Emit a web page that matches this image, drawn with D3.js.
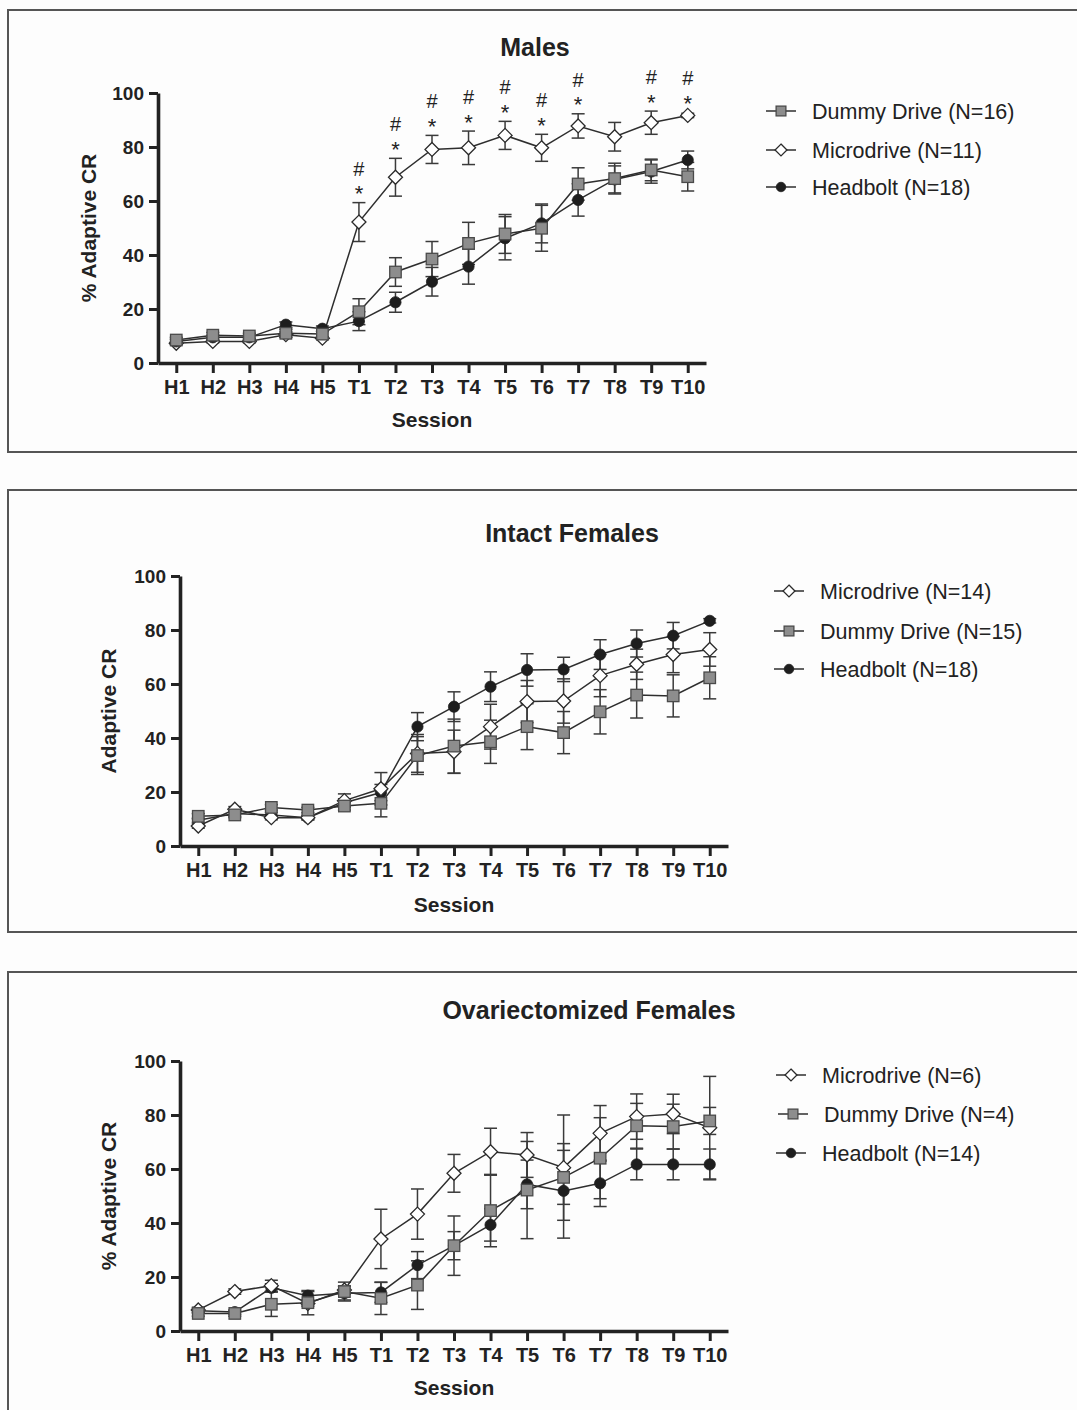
<!DOCTYPE html>
<html>
<head>
<meta charset="utf-8">
<script src="https://cdn.jsdelivr.net/npm/d3@7"></script>
<style>
  html, body { margin: 0; padding: 0; background: #fdfdfd; }
  svg { display: block; }
  text { font-family: "Liberation Sans", Arial, Helvetica, sans-serif; fill: #222; }
</style>
</head>
<body>
<script>
// Sessions: habituation (H) then training (T)
const sessions = ["H1","H2","H3","H4","H5","T1","T2","T3","T4","T5","T6","T7","T8","T9","T10"];
const yTicks = [0, 20, 40, 60, 80, 100];

// Males
const malesDummyMean  = [8.5, 10.3, 10, 11, 10.7, 19, 33.7, 38.5, 44.3, 47.8, 49.9, 66.3, 68.3, 71.5, 69];
const malesDummySem   = [1, 1, 1, 1.5, 1, 4.8, 5.3, 6.5, 7.8, 7.2, 8.5, 6, 5.7, 4, 5.3];
const malesMicroMean  = [7.3, 8, 8, 10.5, 9.2, 52.2, 68.8, 79.1, 79.7, 84.3, 79.7, 87.8, 83.8, 89, 91.7];
const malesMicroSem   = [0.5, 0.5, 0.5, 1, 0.5, 7.2, 7, 5.2, 6.2, 5.2, 5, 4.5, 5.3, 4.3, 0.8];
const malesHeadMean   = [8, 9.5, 9.5, 14.2, 12.7, 15.5, 22.5, 30.1, 35.7, 46.2, 51.7, 60.4, 68, 70.9, 75.2];
const malesHeadSem    = [0.8, 0.8, 0.8, 1, 1, 3.5, 3.7, 5.3, 6.5, 8, 7.2, 6, 5, 4.3, 3.3];
const malesSigSessions = ["T1","T2","T3","T4","T5","T6","T7","T9","T10"];

// Intact females
const intactMicroMean = [7.4, 13.6, 10.5, 10.5, 16.8, 21.2, 34.3, 34.9, 44.2, 53.5, 53.7, 63.1, 67.3, 70.9, 72.8];
const intactMicroSem  = [0.8, 1, 0.8, 0.8, 2.5, 6, 7, 8, 8.3, 7.8, 8.2, 7.8, 5.6, 6.7, 6.2];
const intactDummyMean = [11, 11.5, 14.3, 13.3, 14.8, 15.8, 33.5, 37, 38.6, 44.2, 42, 49.7, 55.9, 55.6, 62.3];
const intactDummySem  = [1, 1, 1, 1, 1.5, 5, 7, 10, 8, 8.5, 7.8, 8.2, 8.5, 7.8, 7.8];
const intactHeadMean  = [9.5, 12, 11.5, 10.5, 16, 19.8, 44.2, 51.6, 59, 65.2, 65.4, 70.9, 75, 77.9, 83.4];
const intactHeadSem   = [0.8, 1, 1, 0.8, 1.5, 3, 5.2, 5.5, 5.5, 6, 4.5, 5.5, 5, 4.9, 0.8];

// Ovariectomized females
const ovxMicroMean = [7.8, 14.6, 16.8, 10.2, 15.2, 34.1, 43.3, 58.4, 66.4, 65.2, 60.5, 73.2, 79.4, 80.4, 75.3];
const ovxMicroSem  = [1, 1, 2, 1, 1.5, 11, 9.3, 7, 8.7, 8.3, 19.5, 10.3, 8.4, 7.3, 19];
const ovxDummyMean = [6.5, 6.5, 9.9, 10.5, 14.6, 12.1, 17, 31.6, 44.6, 52.2, 56.9, 64, 76, 75.7, 77.8];
const ovxDummySem  = [1, 1, 4.5, 4.5, 3.5, 6, 9, 11, 13.4, 18, 10, 15, 8.3, 8.3, 5];
const ovxHeadMean  = [7.5, 7, 16, 13.1, 14, 14.3, 24.4, 31.6, 39.3, 54.3, 51.9, 54.7, 61.7, 61.7, 61.7];
const ovxHeadSem   = [0.8, 0.8, 1.5, 1.5, 2.5, 3.7, 5, 5.2, 6, 9, 17.5, 8.6, 5.7, 5.7, 5.7];

const FONT = '"Liberation Sans", Arial, Helvetica, sans-serif';
const W = 1077, H = 1410;

const svg = d3.select("body").append("svg")
  .attr("width", W).attr("height", H)
  .style("background", "#fdfdfd");

// Marker drawing for each group symbol
function drawSymbol(g, kind, cx, cy, scale) {
  const s = scale || 1;
  if (kind === "square") {
    const a = 11.5 * s;
    g.append("rect").attr("x", cx - a / 2).attr("y", cy - a / 2)
      .attr("width", a).attr("height", a)
      .attr("fill", "#8d8d8d").attr("stroke", "#4a4a4a").attr("stroke-width", 1.3);
  } else if (kind === "diamond") {
    const r = 7 * s;
    g.append("path")
      .attr("d", `M${cx},${cy - r}L${cx + r},${cy}L${cx},${cy + r}L${cx - r},${cy}Z`)
      .attr("fill", "#ffffff").attr("stroke", "#2a2a2a").attr("stroke-width", 1.3);
  } else {
    g.append("circle").attr("cx", cx).attr("cy", cy).attr("r", 5.6 * s)
      .attr("fill", "#1e1e1e").attr("stroke", "#1e1e1e").attr("stroke-width", 0.8);
  }
}

function drawPanel(p) {
  const root = svg.append("g");

  // framed box
  root.append("rect")
    .attr("x", p.box[0]).attr("y", p.box[1]).attr("width", p.box[2]).attr("height", p.box[3])
    .attr("fill", "#fdfdfd").attr("stroke", "#555").attr("stroke-width", 2);

  root.append("text")
    .attr("x", p.titleX).attr("y", p.titleY)
    .attr("text-anchor", "middle")
    .style("font-size", "25px").style("font-weight", "bold")
    .text(p.title);

  const x = d3.scalePoint().domain(sessions).range(p.xRange).padding(0.5);
  const y = d3.scaleLinear().domain([0, 100]).range(p.yRange);

  // axes
  const yAxis = root.append("g")
    .attr("transform", `translate(${p.xRange[0]},0)`)
    .call(d3.axisLeft(y).tickValues(yTicks).tickSize(9).tickSizeOuter(0).tickPadding(5));
  const xAxis = root.append("g")
    .attr("transform", `translate(0,${y(0)})`)
    .call(d3.axisBottom(x).tickSize(10).tickSizeOuter(0).tickPadding(7));

  [yAxis, xAxis].forEach(ax => {
    ax.select(".domain").attr("stroke", "#222").attr("stroke-width", 3.6);
    ax.selectAll(".tick line").attr("stroke", "#222").attr("stroke-width", 3);
    ax.selectAll(".tick text")
      .attr("fill", "#222")
      .style("font-family", FONT).style("font-weight", "bold");
  });
  yAxis.selectAll(".tick text").attr("dy", "0.36em").style("font-size", "19px");
  xAxis.selectAll(".tick text").style("font-size", "20px");

  root.append("text")
    .attr("transform", `translate(${p.yLabelX},${(p.yRange[0] + p.yRange[1]) / 2}) rotate(-90)`)
    .attr("text-anchor", "middle").attr("dy", "0.36em")
    .style("font-size", "21px").style("font-weight", "bold")
    .text(p.yLabel);

  root.append("text")
    .attr("x", (p.xRange[0] + p.xRange[1]) / 2).attr("y", p.xLabelY)
    .attr("text-anchor", "middle")
    .style("font-size", "21px").style("font-weight", "bold")
    .text("Session");

  const plot = root.append("g");
  const rows = p.series.map(s => sessions.map((k, i) => ({ k, m: s.mean[i], e: s.sem[i] })));

  // error bars
  p.drawOrder.forEach(si => {
    const g = plot.append("g").attr("stroke", "#3a3a3a").attr("stroke-width", 1.5);
    rows[si].forEach(d => {
      const cx = x(d.k), y1 = y(d.m + d.e), y2 = y(d.m - d.e);
      g.append("line").attr("x1", cx).attr("x2", cx).attr("y1", y1).attr("y2", y2);
      g.append("line").attr("x1", cx - 6.5).attr("x2", cx + 6.5).attr("y1", y1).attr("y2", y1);
      g.append("line").attr("x1", cx - 6.5).attr("x2", cx + 6.5).attr("y1", y2).attr("y2", y2);
    });
  });

  // connecting lines
  const line = d3.line().x(d => x(d.k)).y(d => y(d.m));
  p.drawOrder.forEach(si => {
    plot.append("path").datum(rows[si])
      .attr("d", line).attr("fill", "none")
      .attr("stroke", "#2e2e2e").attr("stroke-width", 1.5);
  });

  // markers
  p.drawOrder.forEach(si => {
    const g = plot.append("g");
    rows[si].forEach(d => drawSymbol(g, p.series[si].symbol, x(d.k), y(d.m)));
  });

  // significance marks (# over *) above the Microdrive curve
  if (p.sig) {
    const s = p.series[p.sig.series];
    p.sig.sessions.forEach(k => {
      const i = sessions.indexOf(k);
      const top = y(s.mean[i] + Math.max(s.sem[i], 1.2));
      root.append("text").attr("x", x(k)).attr("y", top - 1.5)
        .attr("text-anchor", "middle").style("font-size", "22px").text("*");
      root.append("text").attr("x", x(k)).attr("y", top - 27)
        .attr("text-anchor", "middle").style("font-size", "20px").text("#");
    });
  }

  // legend
  p.legend.order.forEach((si, r) => {
    const s = p.series[si];
    const cy = p.legend.ys[r];
    const cx = p.legend.xs[r];
    const lg = root.append("g");
    lg.append("line").attr("x1", cx - 15).attr("x2", cx + 15).attr("y1", cy).attr("y2", cy)
      .attr("stroke", "#2e2e2e").attr("stroke-width", 1.5);
    drawSymbol(lg, s.symbol, cx, cy, 0.85);
    lg.append("text").attr("x", p.legend.textX[r]).attr("y", cy).attr("dy", "0.36em")
      .style("font-size", "21.5px").text(s.name);
  });
}

drawPanel({
  box: [8, 10, 1080, 442],
  title: "Males", titleX: 535, titleY: 56,
  xRange: [158, 706], yRange: [363, 93],
  yLabel: "% Adaptive CR", yLabelX: 88, xLabelY: 427,
  series: [
    { name: "Dummy Drive (N=16)", symbol: "square",  mean: malesDummyMean, sem: malesDummySem },
    { name: "Microdrive (N=11)",  symbol: "diamond", mean: malesMicroMean, sem: malesMicroSem },
    { name: "Headbolt (N=18)",    symbol: "circle",  mean: malesHeadMean,  sem: malesHeadSem }
  ],
  drawOrder: [1, 2, 0],
  sig: { series: 1, sessions: malesSigSessions },
  legend: { order: [0, 1, 2], xs: [781, 781, 781], textX: [812, 812, 812], ys: [111, 150, 187] }
});

drawPanel({
  box: [8, 490, 1080, 442],
  title: "Intact Females", titleX: 572, titleY: 542,
  xRange: [180, 728], yRange: [846, 576],
  yLabel: "Adaptive CR", yLabelX: 108, xLabelY: 912,
  series: [
    { name: "Microdrive (N=14)",  symbol: "diamond", mean: intactMicroMean, sem: intactMicroSem },
    { name: "Dummy Drive (N=15)", symbol: "square",  mean: intactDummyMean, sem: intactDummySem },
    { name: "Headbolt (N=18)",    symbol: "circle",  mean: intactHeadMean,  sem: intactHeadSem }
  ],
  drawOrder: [2, 0, 1],
  legend: { order: [0, 1, 2], xs: [789, 789, 789], textX: [820, 820, 820], ys: [591, 631, 669] }
});

drawPanel({
  box: [8, 972, 1080, 450],
  title: "Ovariectomized Females", titleX: 589, titleY: 1019,
  xRange: [180, 728], yRange: [1331, 1061],
  yLabel: "% Adaptive CR", yLabelX: 108, xLabelY: 1395,
  series: [
    { name: "Microdrive (N=6)",  symbol: "diamond", mean: ovxMicroMean, sem: ovxMicroSem },
    { name: "Dummy Drive (N=4)", symbol: "square",  mean: ovxDummyMean, sem: ovxDummySem },
    { name: "Headbolt (N=14)",   symbol: "circle",  mean: ovxHeadMean,  sem: ovxHeadSem }
  ],
  drawOrder: [2, 0, 1],
  legend: { order: [0, 1, 2], xs: [791, 793, 791], textX: [822, 824, 822], ys: [1075, 1114, 1153] }
});
</script>
</body>
</html>
